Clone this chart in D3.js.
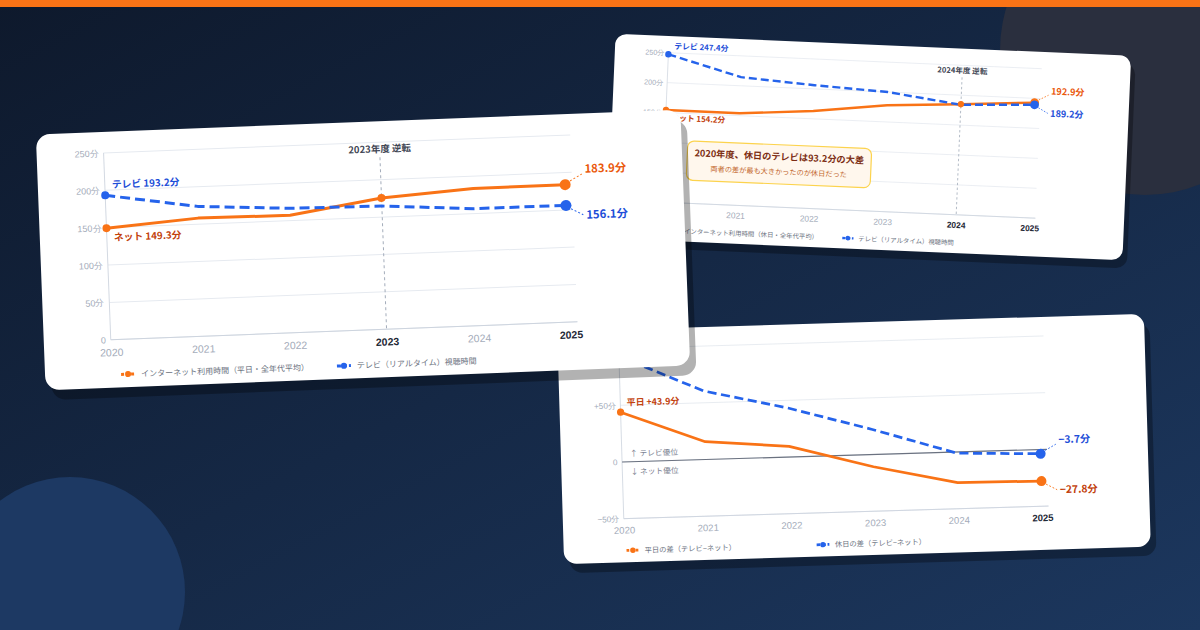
<!DOCTYPE html>
<html>
<head>
<meta charset="utf-8">
<script src="https://cdn.jsdelivr.net/npm/d3@7"></script>
<style>
  html, body { margin: 0; padding: 0; background: #0f1b30; }
  svg { display: block; font-family: "Noto Sans CJK JP", "Noto Sans", sans-serif; }
</style>
</head>
<body>
<svg id="chart" width="1200" height="630"></svg>
<script>
/* TV vs internet minutes, three tilted cards */

const years = [2020, 2021, 2022, 2023, 2024, 2025];

// weekday (card 1)
const weekdayNet = [149.3, 158.0, 157.0, 175.5, 183.4, 183.9];
const weekdayTv  = [193.2, 173.7, 166.4, 164.7, 156.5, 156.1];

// holiday (card 2)
const holidayNet = [154.2, 154.0, 163.0, 178.0, 185.0, 192.9];
const holidayTv  = [247.4, 214.4, 206.2, 200.1, 184.0, 189.2];

// gap tv - net (card 3)
const weekdayGap = [43.9, 15.7, 9.4, -10.8, -26.9, -27.8];
const holidayGap = [93.2, 60.4, 43.2, 22.1, -1.0, -3.7];

const minuteTicks = [0, 50, 100, 150, 200, 250];
const gapTicks = [-50, 0, 50, 100];

const ORANGE = "#f97316", BLUE = "#2563eb";
const W = 645, H = 256;
const plot = { left: 67, right: 527, top: 21, bottom: 208 };

const svg = d3.select("#chart");

/* BACKGROUND */
const defs = svg.append("defs");
const bg = defs.append("linearGradient").attr("id", "bg")
    .attr("x1", 0).attr("y1", 0).attr("x2", 1).attr("y2", 1);
bg.append("stop").attr("offset", 0).attr("stop-color", "#0e192c");
bg.append("stop").attr("offset", 1).attr("stop-color", "#1c375e");

svg.append("rect").attr("width", 1200).attr("height", 630).attr("fill", "url(#bg)");
svg.append("circle").attr("cx", 1145).attr("cy", 50).attr("r", 145).attr("fill", "#2a2f3e");
svg.append("circle").attr("cx", 70).attr("cy", 592).attr("r", 115).attr("fill", "#1d3963");
svg.append("rect").attr("width", 1200).attr("height", 7).attr("fill", ORANGE);

/* ONE CARD */
function drawCard(c) {
    const g = svg.append("g")
        .attr("transform", `translate(${c.cx},${c.cy}) rotate(${c.angle}) scale(${c.scale}) translate(${-W / 2},${-H / 2})`);

    // shadow + card
    g.append("rect").attr("x", 6).attr("y", 10).attr("width", W).attr("height", H)
        .attr("rx", 14).attr("fill", "rgba(0,0,0,0.3)");
    g.append("rect").attr("width", W).attr("height", H).attr("rx", 14).attr("fill", "#ffffff");

    const x = d3.scalePoint().domain(years).range([plot.left, plot.right]);
    const y = d3.scaleLinear().domain(c.domain).range([plot.bottom, plot.top]);

    // grid
    g.append("g").selectAll("line").data(c.ticks).join("line")
        .attr("x1", plot.left).attr("x2", plot.right + 7)
        .attr("y1", d => y(d)).attr("y2", d => y(d))
        .attr("stroke", "#e6eaf0");

    g.append("line").attr("x1", plot.left).attr("x2", plot.left)
        .attr("y1", plot.top).attr("y2", plot.bottom).attr("stroke", "#d3d9e2");
    g.append("line").attr("x1", plot.left).attr("x2", plot.right + 7)
        .attr("y1", plot.bottom).attr("y2", plot.bottom).attr("stroke", "#cdd4de");

    const yAxis = g.append("g")
        .attr("transform", `translate(${plot.left},0)`)
        .call(d3.axisLeft(y).tickValues(c.ticks).tickSize(0).tickPadding(5).tickFormat(c.fmt))
        .call(g => g.select(".domain").remove());
    yAxis.selectAll("text").attr("fill", "#a3abb9").attr("font-size", 9)
        .attr("font-family", null);

    const xAxis = g.append("g")
        .attr("transform", `translate(0,${plot.bottom})`)
        .call(d3.axisBottom(x).tickSize(0).tickPadding(9))
        .call(g => g.select(".domain").remove());
    xAxis.selectAll("text").attr("font-family", null).attr("font-size", 10.5)
        .attr("fill", d => c.bold.includes(d) ? "#1f2937" : "#a3abb9")
        .attr("font-weight", d => c.bold.includes(d) ? 700 : 400);

    // zero line for the gap chart
    if (c.zero) {
        g.append("line").attr("x1", plot.left).attr("x2", plot.right + 7)
            .attr("y1", y(0)).attr("y2", y(0)).attr("stroke", "#6b7280").attr("stroke-width", 1.3);
        g.append("text").attr("x", plot.left + 9).attr("y", y(0) - 6)
            .attr("font-size", 8.5).attr("fill", "#7b8291").text("↑ テレビ優位");
        g.append("text").attr("x", plot.left + 9).attr("y", y(0) + 14)
            .attr("font-size", 8.5).attr("fill", "#7b8291").text("↓ ネット優位");
    }

    // reversal marker
    if (c.reversal) {
        const rx = x(c.reversal.year);
        g.append("line").attr("x1", rx).attr("x2", rx)
            .attr("y1", 36).attr("y2", plot.bottom)
            .attr("stroke", "#a3acba").attr("stroke-dasharray", "3,3");
        g.append("text").attr("x", rx).attr("y", 31).attr("text-anchor", "middle")
            .attr("font-size", 9.5).attr("font-weight", 700).attr("fill", "#3f4654")
            .text(c.reversal.text);
    }

    // annotation box
    if (c.note) {
        const n = c.note;
        g.append("rect").attr("x", n.x).attr("y", n.y).attr("width", n.w).attr("height", n.h)
            .attr("rx", 8).attr("fill", "#fff7ed").attr("stroke", "#fcd34d").attr("stroke-width", 1.5);
        g.append("text").attr("x", n.x + n.w / 2).attr("y", n.y + 19).attr("text-anchor", "middle")
            .attr("font-size", 11.5).attr("font-weight", 700).attr("fill", "#7c2d12").text(n.title);
        g.append("text").attr("x", n.x + n.w / 2).attr("y", n.y + 37).attr("text-anchor", "middle")
            .attr("font-size", 9).attr("fill", "#c2652a").text(n.sub);
    }

    const line = d3.line()
        .x((d, i) => x(years[i]))
        .y(d => y(d));

    for (const s of c.series) {
        g.append("path").datum(s.values)
            .attr("d", line)
            .attr("fill", "none")
            .attr("stroke", s.color)
            .attr("stroke-width", 3)
            .attr("stroke-linejoin", "round")
            .attr("stroke-linecap", s.dashed ? "butt" : "round")
            .attr("stroke-dasharray", s.dashed ? "10,5" : null);
    }

    for (const s of c.series) {
        const last = s.values.length - 1;
        // dots
        g.selectAll(null).data(s.dots).join("circle")
            .attr("cx", i => x(years[i]))
            .attr("cy", i => y(s.values[i]))
            .attr("r", i => i === last ? 5.5 : 4)
            .attr("fill", s.color);

        // start label
        const sx = x(years[0]), sy = y(s.values[0]);
        g.append("text")
            .attr("x", sx + 7).attr("y", s.startUp ? sy - 7 : sy + 13)
            .attr("font-size", 9.8).attr("font-weight", 700).attr("fill", s.textColor)
            .text(s.startLabel);

        // end label with leader
        const ex = x(years[last]), ey = y(s.values[last]);
        const k = s.endUp ? -1 : 1;
        g.append("line")
            .attr("x1", ex + 5).attr("y1", ey + k * 3.5)
            .attr("x2", ex + 17).attr("y2", ey + k * 10)
            .attr("stroke", s.color).attr("stroke-width", 1).attr("stroke-dasharray", "2,2");
        g.append("text")
            .attr("x", ex + 20).attr("y", s.endUp ? ey - 11 : ey + 14)
            .attr("font-size", 11.3).attr("font-weight", 700).attr("fill", s.endColor)
            .text(s.endLabel);
    }

    // legend
    c.legend.forEach((l, i) => {
        const lx = c.legendX[i], ly = 243;
        g.append("line").attr("x1", lx).attr("x2", lx + 14).attr("y1", ly).attr("y2", ly)
            .attr("stroke", l.color).attr("stroke-width", 3)
            .attr("stroke-dasharray", l.dashed ? "4,2" : "3,2");
        g.append("circle").attr("cx", lx + 7).attr("cy", ly).attr("r", 3).attr("fill", l.color);
        g.append("text").attr("x", lx + 20).attr("y", ly + 3)
            .attr("font-size", 8).attr("fill", "#6b7280").text(l.text);
    });
}

const minFmt = d => d === 0 ? "0" : `${d}分`;
const gapFmt = d => d === 0 ? "0" : (d > 0 ? `+${d}分` : `−${-d}分`);

/* card 2: holiday (back) */
drawCard({
    cx: 869, cy: 147, angle: 2.45, scale: 0.8,
    domain: [0, 250], ticks: minuteTicks, fmt: minFmt,
    bold: [2024, 2025],
    reversal: { year: 2024, text: "2024年度 逆転" },
    note: { x: 96, y: 130, w: 230, h: 49,
        title: "2020年度、休日のテレビは93.2分の大差",
        sub: "両者の差が最も大きかったのが休日だった" },
    series: [
        { values: holidayNet, color: ORANGE, dashed: false, dots: [0, 4, 5],
          textColor: "#c2410c", endColor: "#ea580c",
          startLabel: "ネット 154.2分", startUp: false, endLabel: "192.9分", endUp: true },
        { values: holidayTv, color: BLUE, dashed: true, dots: [0, 5],
          textColor: "#1d4ed8", endColor: "#1d4ed8",
          startLabel: "テレビ 247.4分", startUp: true, endLabel: "189.2分", endUp: false }
    ],
    legend: [
        { text: "インターネット利用時間（休日・全年代平均）", color: ORANGE, dashed: false },
        { text: "テレビ（リアルタイム）視聴時間", color: BLUE, dashed: true }
    ],
    legendX: [76, 294]
});

/* card 3: gap */
drawCard({
    cx: 854, cy: 439, angle: -1.7, scale: 0.91,
    domain: [-50, 100], ticks: gapTicks, fmt: gapFmt,
    bold: [2025], zero: true,
    series: [
        { values: weekdayGap, color: ORANGE, dashed: false, dots: [0, 5],
          textColor: "#c2410c", endColor: "#c2410c",
          startLabel: "平日 +43.9分", startUp: true, endLabel: "−27.8分", endUp: false },
        { values: holidayGap, color: BLUE, dashed: true, dots: [0, 5],
          textColor: "#1d4ed8", endColor: "#1d4ed8",
          startLabel: "休日 +93.2分", startUp: true, endLabel: "−3.7分", endUp: true }
    ],
    legend: [
        { text: "平日の差（テレビ−ネット）", color: ORANGE, dashed: false },
        { text: "休日の差（テレビ−ネット）", color: BLUE, dashed: true }
    ],
    legendX: [69, 278]
});

/* card 1: weekday (front) */
drawCard({
    cx: 363, cy: 250, angle: -2.2, scale: 1,
    domain: [0, 250], ticks: minuteTicks, fmt: minFmt,
    bold: [2023, 2025],
    reversal: { year: 2023, text: "2023年度 逆転" },
    series: [
        { values: weekdayNet, color: ORANGE, dashed: false, dots: [0, 3, 5],
          textColor: "#c2410c", endColor: "#ea580c",
          startLabel: "ネット 149.3分", startUp: false, endLabel: "183.9分", endUp: true },
        { values: weekdayTv, color: BLUE, dashed: true, dots: [0, 5],
          textColor: "#1d4ed8", endColor: "#1d4ed8",
          startLabel: "テレビ 193.2分", startUp: true, endLabel: "156.1分", endUp: false }
    ],
    legend: [
        { text: "インターネット利用時間（平日・全年代平均）", color: ORANGE, dashed: false },
        { text: "テレビ（リアルタイム）視聴時間", color: BLUE, dashed: true }
    ],
    legendX: [76, 292]
});
</script>
</body>
</html>
